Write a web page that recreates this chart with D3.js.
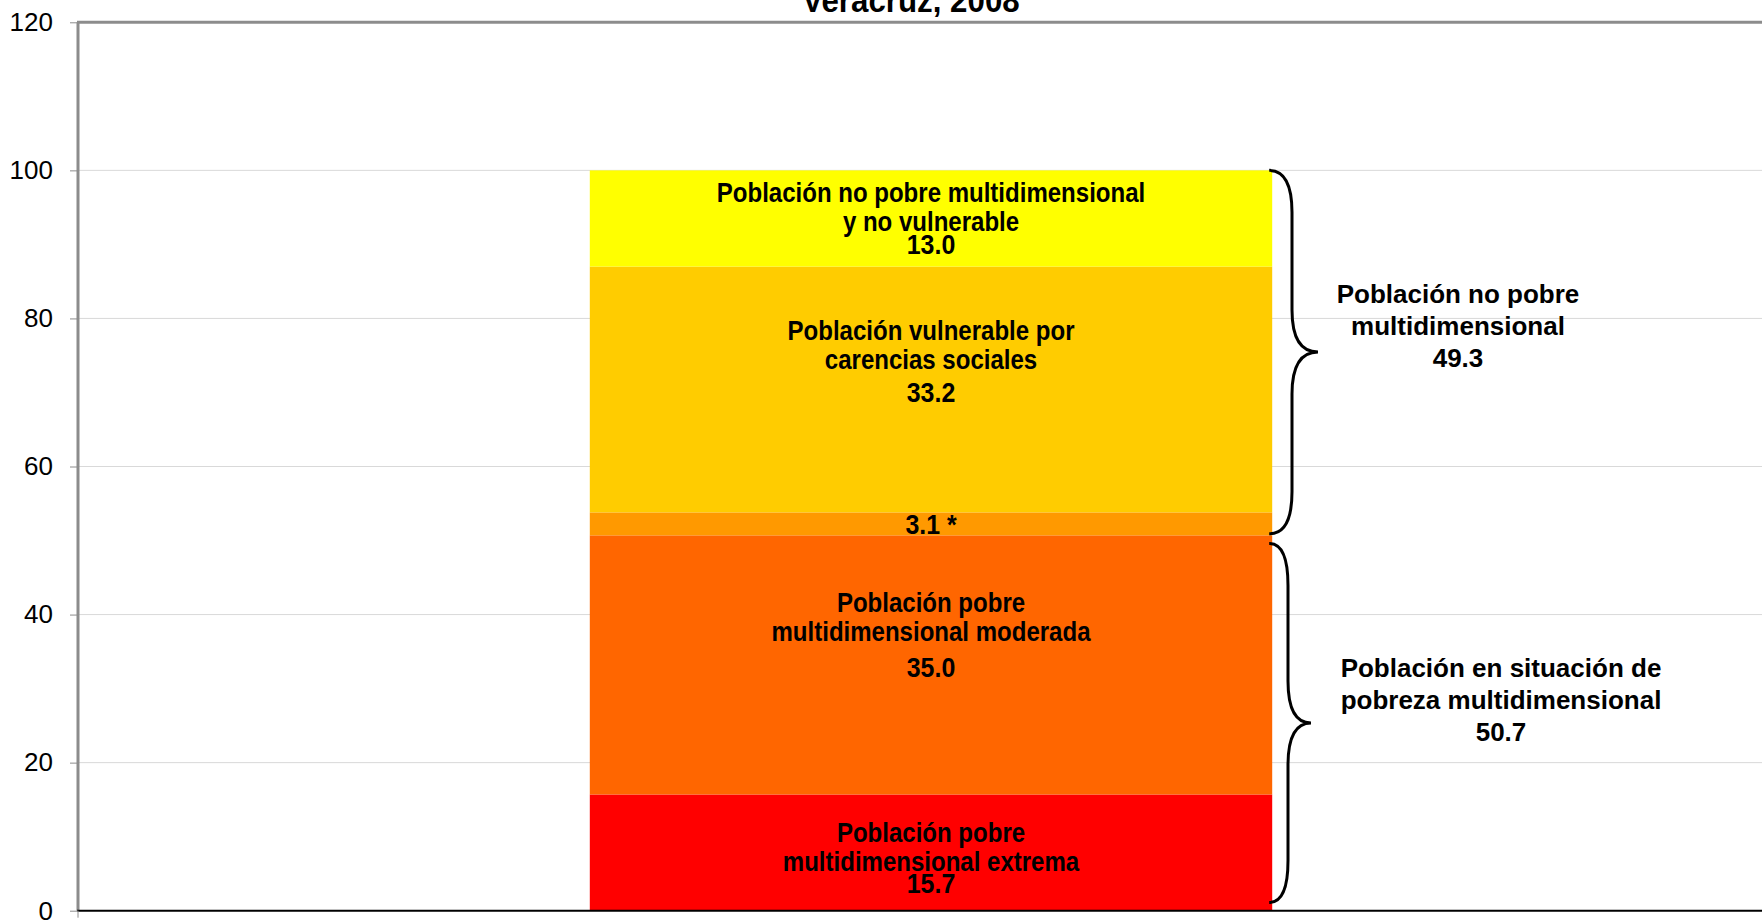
<!DOCTYPE html>
<html><head><meta charset="utf-8">
<script src="https://cdn.jsdelivr.net/npm/d3@7"></script>
<style>body{margin:0;background:#fff;overflow:hidden}svg{display:block}</style>
</head><body>
<svg id="c" width="1762" height="920"></svg>
<script>
const title = "Veracruz, 2008";
const categories = ["Veracruz"];
const segNames = [
  ["Población pobre", "multidimensional extrema"],
  ["Población pobre", "multidimensional moderada"],
  [],
  ["Población vulnerable por", "carencias sociales"],
  ["Población no pobre multidimensional", "y no vulnerable"]
];
const segValues = [15.7, 35.0, 3.1, 33.2, 13.0];
const segValueLabels = ["15.7", "35.0", "3.1 *", "33.2", "13.0"];
const segColors = ["#FF0000", "#FF6600", "#FF9900", "#FFCC00", "#FFFF00"];
const yTicks = [0, 20, 40, 60, 80, 100, 120];
const groupNames = [
  ["Población en situación de", "pobreza multidimensional"],
  ["Población no pobre", "multidimensional"]
];
const groupValues = ["50.7", "49.3"];
const groupRanges = [[1.1, 49.6], [50.9, 100]];

const svg = d3.select("#c");
const y = d3.scaleLinear().domain([0, 120]).range([910.7, 22.3]);
const x = d3.scaleBand().domain(categories).range([78, 1784]).paddingInner(0).paddingOuter(0.75);
const X0 = 78;

// gridlines
svg.append("g").selectAll("line").data(yTicks.filter(d => d > 0 && d < 120)).join("line")
  .attr("x1", X0).attr("x2", 1762).attr("y1", d => y(d)).attr("y2", d => y(d))
  .attr("stroke", "#d9d9d9").attr("stroke-width", 1);

// stacked bar
let acc = 0;
const stacks = segValues.map((v, i) => { const s = {y0: acc, y1: acc + v, i}; acc += v; return s; });
const cat = categories[0];
svg.append("g").selectAll("rect").data(stacks).join("rect")
  .attr("x", x(cat)).attr("width", x.bandwidth())
  .attr("y", d => y(d.y1)).attr("height", d => y(d.y0) - y(d.y1))
  .attr("fill", d => segColors[d.i]);

// axis frame
svg.append("line").attr("x1", X0 - 1).attr("x2", 1762).attr("y1", y(120)).attr("y2", y(120))
  .attr("stroke", "#8c8c8c").attr("stroke-width", 3);
svg.append("line").attr("x1", X0).attr("x2", X0).attr("y1", y(120)).attr("y2", y(0))
  .attr("stroke", "#8c8c8c").attr("stroke-width", 3);
svg.append("line").attr("x1", X0 - 1).attr("x2", 1762).attr("y1", y(0)).attr("y2", y(0))
  .attr("stroke", "#000").attr("stroke-width", 2);
svg.append("line").attr("x1", X0).attr("x2", X0).attr("y1", y(0)).attr("y2", y(0) + 7)
  .attr("stroke", "#8c8c8c").attr("stroke-width", 1);

const ax = svg.append("g").attr("transform", `translate(${X0},0)`)
  .call(d3.axisLeft(y).tickValues(yTicks).tickSize(8).tickPadding(17).tickFormat(d3.format("d")));
ax.select(".domain").remove();
ax.selectAll(".tick line").attr("stroke", "#8c8c8c");
ax.selectAll(".tick text").attr("font-family", "Liberation Sans, Arial, sans-serif")
  .attr("font-size", 26).attr("fill", "#000");

function condText(g, cx, cy, txt, size, sx) {
  g.append("text").attr("transform", `translate(${cx},${cy}) scale(${sx || 0.89},1)`)
    .attr("text-anchor", "middle").attr("font-family", "Liberation Sans, Arial, sans-serif")
    .attr("font-weight", "bold").attr("font-size", size).attr("fill", "#000").text(txt);
}

// title
condText(svg, 911, 12, title, 34, 0.92);

// segment labels
const cx = x(cat) + x.bandwidth() / 2;
const lab = svg.append("g");
stacks.forEach(s => {
  const names = segNames[s.i];
  const top = y(s.y1), bot = y(s.y0);
  const mid = (top + bot) / 2;
  if (names.length === 0) {
    condText(lab, cx, mid + 10, segValueLabels[s.i], 28);
    return;
  }
  let base, gapNum;
  if (s.i === 0) { base = top + 48; gapNum = 22; }
  else if (s.i === 4) { base = top + 31.5; gapNum = 23; }
  else if (s.i === 1) { base = top + 77; gapNum = 36; }
  else { base = top + 73.5; gapNum = 33; }
  names.forEach((n, k) => condText(lab, cx, base + k * 29, n, 27));
  condText(lab, cx, base + 29 + gapNum, segValueLabels[s.i], 28);
});

// braces
const bx0 = x(cat) + x.bandwidth() - 3;
function bracePath(yT, yB, xs, xt) {
  const yM = (yT + yB) / 2, r = 42;
  return `M${bx0},${yT} Q${xs},${yT} ${xs},${yT + r} L${xs},${yM - r} Q${xs},${yM} ${xt},${yM}` +
    ` Q${xs},${yM} ${xs},${yM + r} L${xs},${yB - r} Q${xs},${yB} ${bx0},${yB}`;
}
const gx = [[1288, 1311, 1501, 5], [1292, 1318, 1458, 2]];
groupRanges.forEach((r, i) => {
  svg.append("path").attr("d", bracePath(y(r[1]), y(r[0]), gx[i][0], gx[i][1]))
    .attr("fill", "none").attr("stroke", "#000").attr("stroke-width", 3);
  const yM = (y(r[0]) + y(r[1])) / 2;
  const lines = groupNames[i].concat([groupValues[i]]);
  lines.forEach((t, k) => {
    svg.append("text").attr("x", gx[i][2]).attr("y", yM - 51 + gx[i][3] + k * 32)
      .attr("text-anchor", "middle").attr("font-family", "Liberation Sans, Arial, sans-serif")
      .attr("font-weight", "bold").attr("font-size", 26).attr("fill", "#000").text(t);
  });
});
</script>
</body></html>
